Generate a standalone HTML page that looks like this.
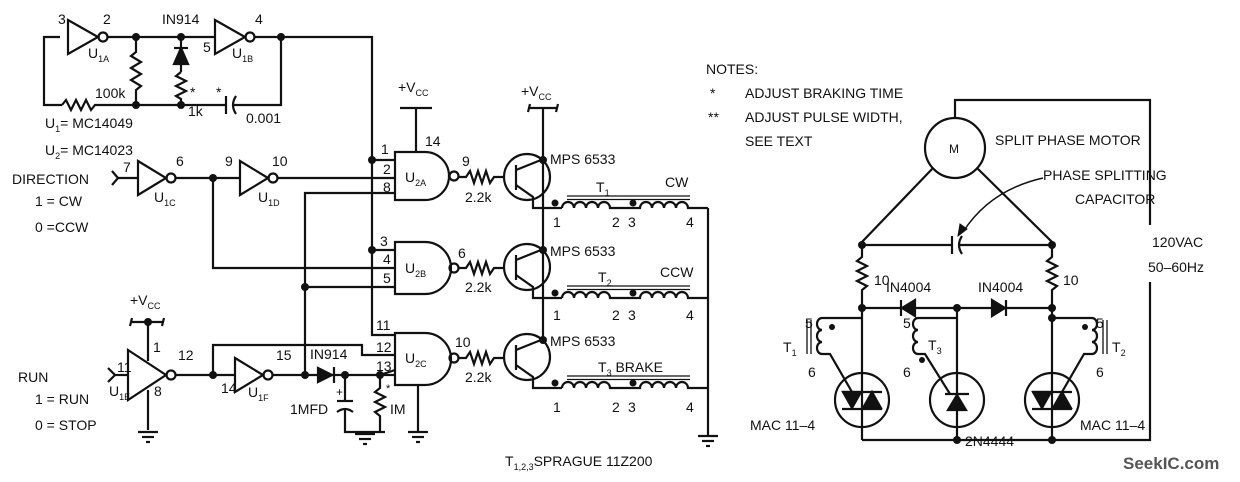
<!DOCTYPE html>
<html><head><meta charset="utf-8"><style>
html,body{margin:0;padding:0;background:#fff;}
svg{display:block;}
text{font-family:"Liberation Sans",sans-serif;font-size:14px;fill:#111;}
.s{font-size:9px;}
</style></head><body>
<svg width="1240" height="482" viewBox="0 0 1240 482" xmlns="http://www.w3.org/2000/svg">
<g fill="none" stroke="#111" stroke-width="2.2">
<polyline points="60,37 44,37 44,105 62,105"/>
<polyline points="62,105 66,100 71,110 76,100 81,110 86,100 91,110 95,105 136,105"/>
<path d="M68,20 L98,37 L68,54 Z"/><circle cx="103" cy="37" r="4.5"/>
<line x1="108" y1="37" x2="215" y2="37"/>
<polyline points="136,37 136,52 131,56 141,62 131,68 141,74 131,80 141,86 136,90 136,105"/>
<line x1="181" y1="37" x2="181" y2="72"/>
<path d="M174,48 H188" /><path d="M181,48 L174,64 H188 Z" fill="#111"/>
<polyline points="181,72 176,76 186,81 176,86 186,91 176,96 181,99 181,105"/>
<line x1="136" y1="105" x2="226" y2="105"/>
<line x1="226" y1="96" x2="226" y2="114"/><path d="M236,96 Q230,105 236,114"/>
<polyline points="232,105 281,105 281,37"/>
<path d="M215,20 L245,37 L215,54 Z"/><circle cx="250" cy="37" r="4.5"/>
<polyline points="255,37 372,37 372,335 395,335"/>
<line x1="400" y1="108" x2="432" y2="108"/><line x1="416" y1="108" x2="416" y2="152"/>
<path d="M395,152 H425 A24,24 0 0 1 425,200 H395 Z"/><circle cx="454" cy="176" r="4.5"/>
<line x1="372" y1="160" x2="395" y2="160"/>
<line x1="277" y1="178" x2="395" y2="178"/>
<polyline points="395,193 305,193 305,375"/>
<polyline points="112,171 118,178 112,185"/><line x1="118" y1="178" x2="138" y2="178"/>
<path d="M138,161 L166,178 L138,195 Z"/><circle cx="171" cy="178" r="4.5"/>
<line x1="176" y1="178" x2="240" y2="178"/>
<path d="M240,161 L268,178 L240,195 Z"/><circle cx="273" cy="178" r="4.5"/>
<polyline points="213,178 213,268 395,268"/>
<path d="M395,242 H425 A26,26 0 0 1 425,294 H395 Z"/><circle cx="454" cy="268" r="4.5"/>
<line x1="372" y1="250" x2="395" y2="250"/>
<line x1="305" y1="287" x2="395" y2="287"/>
<path d="M395,333 H425 A26,26 0 0 1 425,385 H395 Z"/><circle cx="454" cy="358" r="4.5"/>
<polyline points="213,375 213,345 362,345 362,355 395,355"/>
<line x1="418" y1="385" x2="418" y2="432"/>
<polyline points="108,368 115,375 108,382"/><line x1="115" y1="375" x2="128" y2="375"/>
<path d="M128,350 L166,375 L128,400 Z"/><circle cx="171" cy="375" r="4.5"/>
<line x1="132" y1="322" x2="164" y2="322"/><line x1="132" y1="318" x2="130" y2="326"/><line x1="164" y1="318" x2="162" y2="326"/>
<line x1="148" y1="322" x2="148" y2="361"/><line x1="148" y1="390" x2="148" y2="430"/>
<line x1="176" y1="375" x2="235" y2="375"/>
<path d="M235,358 L263,375 L235,392 Z"/><circle cx="268" cy="375" r="4.5"/>
<line x1="273" y1="375" x2="380" y2="375"/>
<path d="M318,368 L332,375 L318,382 Z" fill="#111"/><line x1="334" y1="367" x2="334" y2="383"/>
<line x1="380" y1="375" x2="395" y2="370"/><line x1="380" y1="375" x2="395" y2="375"/>
<line x1="345" y1="375" x2="345" y2="400"/><line x1="337" y1="401" x2="353" y2="401"/><path d="M337,412 Q345,406 353,412"/>
<polyline points="345,408 345,432 385,432"/>
<polyline points="380,375 380,388 375,392 385,397 375,402 385,407 375,412 380,416 380,432"/>
<g><line x1="138" y1="432" x2="158" y2="432"/><line x1="142" y1="437" x2="154" y2="437"/><line x1="146" y1="442" x2="150" y2="442"/></g>
<g><line x1="355" y1="434" x2="375" y2="434"/><line x1="359" y1="439" x2="371" y2="439"/><line x1="363" y1="444" x2="367" y2="444"/></g>
<g><line x1="408" y1="432" x2="428" y2="432"/><line x1="412" y1="437" x2="424" y2="437"/><line x1="416" y1="442" x2="420" y2="442"/></g>
<g><line x1="698" y1="436" x2="718" y2="436"/><line x1="702" y1="441" x2="714" y2="441"/><line x1="706" y1="446" x2="710" y2="446"/></g>
<polyline points="459,177 466,177 470,171 474,183 478,171 482,183 486,171 490,183 494,177 504,177"/>
<polyline points="459,268 466,268 470,262 474,274 478,262 482,274 486,262 490,274 494,268 504,268"/>
<polyline points="459,358 466,358 470,352 474,364 478,352 482,364 486,352 490,364 494,358 504,358"/>
<circle cx="527" cy="177" r="23"/><circle cx="527" cy="267" r="23"/><circle cx="527" cy="357" r="23"/>
<line x1="516" y1="165" x2="516" y2="190"/><line x1="516" y1="255" x2="516" y2="280"/><line x1="516" y1="345" x2="516" y2="370"/>
<polyline points="516,170 541,160"/><polyline points="516,260 541,250"/><polyline points="516,350 541,340"/>
<polyline points="516,185 533,197 533,208 562,208"/><polyline points="516,275 533,287 533,298 562,298"/><polyline points="516,365 533,377 533,388 562,388"/>
<line x1="528" y1="108" x2="558" y2="108"/><line x1="530" y1="104" x2="528" y2="112"/><line x1="558" y1="104" x2="556" y2="112"/>
<line x1="543" y1="108" x2="543" y2="340"/>
<path d="M562,208 a6,6 0 0 1 12,0 a6,6 0 0 1 12,0 a6,6 0 0 1 12,0 a6,6 0 0 1 12,0 H640 a6,6 0 0 1 12,0 a6,6 0 0 1 12,0 a6,6 0 0 1 12,0 a6,6 0 0 1 12,0 H708"/>
<path d="M562,298 a6,6 0 0 1 12,0 a6,6 0 0 1 12,0 a6,6 0 0 1 12,0 a6,6 0 0 1 12,0 H640 a6,6 0 0 1 12,0 a6,6 0 0 1 12,0 a6,6 0 0 1 12,0 a6,6 0 0 1 12,0 H708"/>
<path d="M562,388 a6,6 0 0 1 12,0 a6,6 0 0 1 12,0 a6,6 0 0 1 12,0 a6,6 0 0 1 12,0 H640 a6,6 0 0 1 12,0 a6,6 0 0 1 12,0 a6,6 0 0 1 12,0 a6,6 0 0 1 12,0 H708"/>
<line x1="708" y1="208" x2="708" y2="436"/>
<g stroke-width="1.3"><line x1="567" y1="196" x2="690" y2="196"/><line x1="567" y1="199.5" x2="690" y2="199.5"/>
<line x1="567" y1="286" x2="690" y2="286"/><line x1="567" y1="289.5" x2="690" y2="289.5"/>
<line x1="567" y1="376" x2="690" y2="376"/><line x1="567" y1="379.5" x2="690" y2="379.5"/></g>
<circle cx="955" cy="148" r="30"/>
<polyline points="955,118 955,100 1150,100 1150,225"/><polyline points="1150,282 1150,440 1052,440"/>
<polyline points="933,168 862,242 862,250"/><polyline points="977,168 1052,242 1052,250"/>
<line x1="862" y1="245" x2="952" y2="245"/><line x1="952" y1="236" x2="952" y2="254"/><path d="M962,236 Q956,245 962,254"/><line x1="959" y1="245" x2="1052" y2="245"/>
<path d="M1043,178 Q990,190 963,232" stroke-width="1.5"/>
<path d="M958,236 L960,224 L967,229 Z" fill="#111" stroke-width="1"/>
<polyline points="862,250 862,257 857,261 867,266 857,271 867,276 857,281 867,286 862,290 862,308"/>
<polyline points="1052,250 1052,257 1047,261 1057,266 1047,271 1057,276 1047,281 1057,286 1052,290 1052,308"/>
<line x1="862" y1="308" x2="1052" y2="308"/>
<path d="M915,300 L902,308 L915,316 Z" fill="#111"/><line x1="901" y1="300" x2="901" y2="316"/>
<path d="M992,300 L1005,308 L992,316 Z" fill="#111"/><line x1="1006" y1="300" x2="1006" y2="316"/>
<line x1="862" y1="308" x2="862" y2="440"/><line x1="957" y1="308" x2="957" y2="440"/><line x1="1052" y1="308" x2="1052" y2="440"/>
<line x1="862" y1="440" x2="1052" y2="440"/>
<circle cx="862" cy="400" r="27"/><circle cx="957" cy="400" r="27"/><circle cx="1052" cy="400" r="27"/>
<line x1="842" y1="392" x2="882" y2="392"/><line x1="842" y1="409" x2="882" y2="409"/>
<path d="M843,392 L852,408 L861,392 Z" fill="#111"/><path d="M863,408 L872,392 L881,408 Z" fill="#111"/>
<line x1="1032" y1="392" x2="1072" y2="392"/><line x1="1032" y1="409" x2="1072" y2="409"/>
<path d="M1033,392 L1042,408 L1051,392 Z" fill="#111"/><path d="M1053,408 L1062,392 L1071,408 Z" fill="#111"/>
<line x1="945" y1="394" x2="969" y2="394"/><path d="M948,410 L957,395 L966,410 Z" fill="#111"/>
<path d="M862,318 H822 a5,6 0 0 0 0,12 a5,6 0 0 0 0,12 a5,6 0 0 0 0,12 H830 L852,392"/>
<line x1="807" y1="320" x2="807" y2="354" stroke-width="1.3"/><line x1="811" y1="320" x2="811" y2="354" stroke-width="1.3"/>
<path d="M957,318 H918 a5,6 0 0 0 0,12 a5,6 0 0 0 0,12 a5,6 0 0 0 0,12 H925 L950,394"/>
<path d="M1052,318 H1092 a5,6 0 0 1 0,12 a5,6 0 0 1 0,12 a5,6 0 0 1 0,12 H1084 L1062,392"/>
<line x1="1103" y1="320" x2="1103" y2="354" stroke-width="1.3"/><line x1="1107" y1="320" x2="1107" y2="354" stroke-width="1.3"/>
</g>
<g fill="#111">
<circle cx="136" cy="37" r="4"/><circle cx="136" cy="105" r="4"/><circle cx="181" cy="37" r="4"/><circle cx="181" cy="105" r="4"/><circle cx="281" cy="37" r="4"/>
<circle cx="372" cy="160" r="4"/><circle cx="213" cy="178" r="4"/><circle cx="372" cy="250" r="4"/><circle cx="305" cy="287" r="4"/>
<circle cx="148" cy="322" r="4"/><circle cx="213" cy="375" r="4"/><circle cx="305" cy="375" r="4"/><circle cx="345" cy="375" r="4"/><circle cx="380" cy="375" r="4"/>
<circle cx="543" cy="160" r="4"/><circle cx="543" cy="250" r="4"/><circle cx="543" cy="340" r="4"/>
<circle cx="555" cy="203" r="3.5"/><circle cx="633" cy="203" r="3.5"/><circle cx="555" cy="293" r="3.5"/><circle cx="633" cy="293" r="3.5"/><circle cx="555" cy="383" r="3.5"/><circle cx="633" cy="383" r="3.5"/>
<circle cx="862" cy="245" r="4"/><circle cx="1052" cy="245" r="4"/><circle cx="862" cy="308" r="4"/><circle cx="957" cy="308" r="4"/><circle cx="1052" cy="308" r="4"/><circle cx="1052" cy="318" r="4"/>
<circle cx="957" cy="440" r="4"/><circle cx="1052" cy="440" r="4"/>
<circle cx="832" cy="327" r="3"/><circle cx="922" cy="360" r="3"/><circle cx="1085" cy="327" r="3"/>
</g>
<text x="58" y="24">3</text><text x="103" y="24">2</text><text x="88" y="58">U<tspan class="s" dy="4">1A</tspan></text>
<text x="162" y="24">IN914</text><text x="203" y="52">5</text><text x="255" y="24">4</text><text x="232" y="58">U<tspan class="s" dy="4">1B</tspan></text>
<text x="95" y="98">100k</text><text x="190" y="97">*</text><text x="216" y="97">*</text><text x="188" y="116">1k</text><text x="246" y="123">0.001</text>
<text x="45" y="128">U<tspan class="s" dy="4">1</tspan><tspan dy="-4">= MC14049</tspan></text>
<text x="45" y="155">U<tspan class="s" dy="4">2</tspan><tspan dy="-4">= MC14023</tspan></text>
<text x="398" y="92">+V<tspan class="s" dy="4">CC</tspan></text><text x="425" y="146">14</text>
<text x="521" y="96">+V<tspan class="s" dy="4">CC</tspan></text>
<text x="381" y="154">1</text><text x="383" y="174">2</text><text x="383" y="192">8</text>
<text x="405" y="182">U<tspan class="s" dy="4">2A</tspan></text><text x="462" y="166">9</text>
<text x="12" y="184">DIRECTION</text><text x="123" y="172">7</text><text x="176" y="166">6</text><text x="225" y="166">9</text><text x="272" y="166">10</text>
<text x="154" y="202">U<tspan class="s" dy="4">1C</tspan></text><text x="258" y="202">U<tspan class="s" dy="4">1D</tspan></text>
<text x="35" y="206">1 = CW</text><text x="35" y="232">0 =CCW</text>
<text x="380" y="246">3</text><text x="383" y="264">4</text><text x="383" y="283">5</text><text x="405" y="273">U<tspan class="s" dy="4">2B</tspan></text><text x="458" y="258">6</text>
<text x="376" y="330">11</text><text x="376" y="352">12</text><text x="376" y="371">13</text><text x="405" y="363">U<tspan class="s" dy="4">2C</tspan></text><text x="455" y="347">10</text>
<text x="465" y="202">2.2k</text><text x="465" y="292">2.2k</text><text x="465" y="382">2.2k</text>
<text x="550" y="164">MPS 6533</text><text x="550" y="256">MPS 6533</text><text x="550" y="346">MPS 6533</text>
<text x="596" y="192">T<tspan class="s" dy="4">1</tspan></text><text x="665" y="187">CW</text>
<text x="598" y="282">T<tspan class="s" dy="4">2</tspan></text><text x="660" y="277">CCW</text>
<text x="598" y="372">T<tspan class="s" dy="4">3</tspan><tspan dy="-4"> BRAKE</tspan></text>
<text x="553" y="227">1</text><text x="612" y="227">2</text><text x="628" y="227">3</text><text x="686" y="227">4</text>
<text x="553" y="320">1</text><text x="612" y="320">2</text><text x="628" y="320">3</text><text x="686" y="320">4</text>
<text x="553" y="412">1</text><text x="612" y="412">2</text><text x="628" y="412">3</text><text x="686" y="412">4</text>
<text x="505" y="466">T<tspan class="s" dy="4">1,2,3</tspan><tspan dy="-4">SPRAGUE 11Z200</tspan></text>
<text x="130" y="305">+V<tspan class="s" dy="4">CC</tspan></text><text x="153" y="352">1</text><text x="178" y="360">12</text>
<text x="117" y="372">11</text><text x="109" y="396">U<tspan class="s" dy="4">1E</tspan></text><text x="154" y="396">8</text>
<text x="221" y="393">14</text><text x="276" y="360">15</text><text x="248" y="397">U<tspan class="s" dy="4">1F</tspan></text>
<text x="310" y="359">IN914</text><text x="336" y="396" style="font-size:12px">+</text><text x="290" y="414">1MFD</text>
<text x="386" y="392" style="font-size:11px">*</text><text x="390" y="414">IM</text>
<text x="18" y="382">RUN</text><text x="35" y="404">1 = RUN</text><text x="35" y="430">0 = STOP</text>
<text x="706" y="74">NOTES:</text><text x="710" y="98">*</text><text x="745" y="98">ADJUST BRAKING TIME</text>
<text x="708" y="122">**</text><text x="745" y="122">ADJUST PULSE WIDTH,</text><text x="745" y="146">SEE TEXT</text>
<text x="949" y="153" style="font-size:12px">M</text><text x="995" y="145">SPLIT PHASE MOTOR</text>
<text x="1043" y="180">PHASE SPLITTING</text><text x="1075" y="204">CAPACITOR</text>
<text x="1152" y="247">120VAC</text><text x="1148" y="272">50–60Hz</text>
<text x="874" y="285">10</text><text x="1063" y="285">10</text>
<text x="886" y="292">IN4004</text><text x="978" y="292">IN4004</text>
<text x="805" y="328">5</text><text x="808" y="377">6</text><text x="783" y="352">T<tspan class="s" dy="4">1</tspan></text>
<text x="903" y="328">5</text><text x="903" y="377">6</text><text x="928" y="350">T<tspan class="s" dy="4">3</tspan></text>
<text x="1096" y="328">5</text><text x="1096" y="377">6</text><text x="1112" y="352">T<tspan class="s" dy="4">2</tspan></text>
<text x="750" y="430">MAC 11–4</text><text x="1080" y="430">MAC 11–4</text><text x="965" y="446">2N4444</text>
<text x="1123" y="469" style="font-size:17px;font-weight:bold;fill:#555">SeekIC.com</text>
</svg>
</body></html>
